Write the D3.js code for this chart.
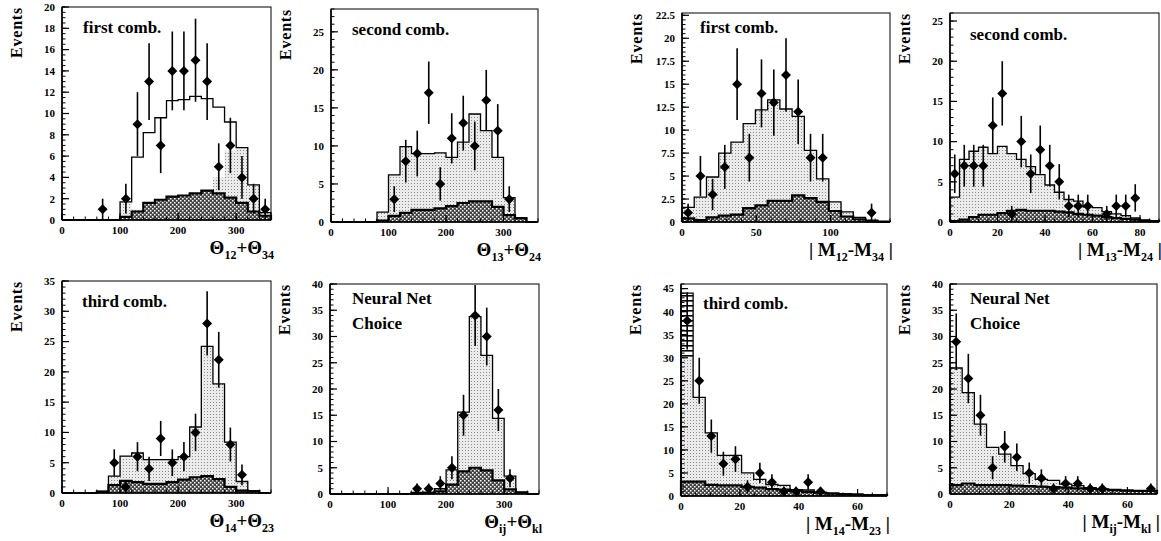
<!DOCTYPE html>
<html>
<head>
<meta charset="utf-8">
<script src="https://cdn.jsdelivr.net/npm/d3@7"></script>
<style>
  body { margin: 0; background: #fff; }
  svg text { font-family: "Liberation Serif", "Times New Roman", serif; font-weight: bold; fill: #000; }
</style>
</head>
<body>
<svg id="chart" width="1161" height="541"></svg>
<script>
// ---- histogram contents (bin by bin) and data points ----
// theta panels: 20 deg bins from 0 to 360
const p1Total  = [0,0,0,0,0,1.7,5.9,8.2,9.6,11.2,11.3,11.6,11.4,10.6,9.2,6.8,3.3,0.7];
const p1Signal = [0,0,0,0,0,1.7,1.0,1.6,1.9,2.2,2.3,2.5,2.75,4.0,6.5,6.8,3.3,0.7];
const p1Bkg    = [0,0,0,0,0,0.3,0.8,1.6,1.9,2.2,2.3,2.5,2.75,2.5,2.1,1.6,0.8,0.4];
const p1X   = [70,110,130,150,170,190,210,230,250,270,290,310,330,350];
const p1Y   = [1,2,9,13,7,14,14,15,13,5,7,4,2,1];
const p1Err = [1,1.4,3,3.6,2.6,3.7,3.7,3.9,3.6,2.2,2.6,2,1.4,1];

const p2Total = [0,0,0,0,1.3,6.2,9.9,9.0,9.0,9.1,8.5,10.5,14.2,12.0,8.5,3.2,0.5,0];
const p2Bkg   = [0,0,0,0,0.2,0.8,1.2,1.6,1.6,1.8,2.1,2.5,2.7,2.7,2.0,0.9,0.5,0];
const p2X   = [110,130,150,170,190,210,230,250,270,290,310];
const p2Y   = [3,8,9,17,5,11,13,10,16,12,3];
const p2Err = [1.7,2.8,3,4.1,2.2,3.3,3.6,3.2,4,3.5,1.7];

const p3Total = [0,0,0,0.3,2.8,6.1,6.6,5.5,5.5,5.5,6.0,10.9,24.2,18.0,8.4,1.9,0.3,0];
const p3Bkg   = [0,0,0,0.2,1.3,2.0,1.8,1.5,1.5,1.8,2.2,2.6,2.8,2.3,1.0,0.4,0.3,0];
const p3X   = [90,110,130,150,170,190,210,230,250,270,290,310];
const p3Y   = [5,1,6,4,9,5,6,10,28,22,8,3];
const p3Err = [2.2,1,2.4,2,2.9,2.2,2.4,3.1,5.3,4.6,2.8,1.7];

const p4Total = [0,0,0,0,0,0,0,0.3,0.3,1.0,4.6,15.6,33.8,26.4,14.4,3.4,0.3,0];
const p4Bkg   = [0,0,0,0,0,0,0,0.1,0.2,0.5,1.8,4.3,5.0,4.5,2.6,0.9,0.3,0];
const p4X   = [150,170,190,210,230,250,270,290,310];
const p4Y   = [1,1,2,5,15,34,30,16,3];
const p4Err = [1,1,1.4,2.2,3.9,5.8,5.5,4,1.7];

// mass difference panels
const p5Total = [1.6,2.7,4.9,7.5,8.7,10.7,12.2,13.3,12.3,11.5,7.8,4.7,2.2,1.1,0.5,0.2,0.1];
const p5Bkg   = [0.4,0.2,0.5,0.7,0.8,1.5,1.8,2.3,2.3,2.9,2.6,2.2,1.2,0.6,0.3,0.1,0];
const p5X   = [4.1,12.4,20.6,28.8,37.1,45.3,53.5,61.8,70.0,78.2,86.5,94.7,127.6];
const p5Y   = [1,5,3,6,15,7,14,13,16,12,7,7,1];
const p5Err = [1,2.2,1.7,2.4,3.9,2.6,3.7,3.6,4,3.5,2.6,2.6,1];

const p6Total = [3.1,7.8,8.8,9.3,8.5,9.4,8.5,7.8,6.9,5.9,4.6,3.7,2.8,2.6,1.9,1.8,1.3,1.0,0.8,0.5,0.2,0.1];
const p6Bkg   = [0.1,0.3,0.6,0.9,0.9,1.1,1.4,1.5,1.4,1.4,1.4,1.3,1.2,1.0,0.9,0.8,0.6,0.5,0.4,0.3,0.2,0.1];
const p6X   = [2,6,10,14,18,22,26,30,34,38,42,46,50,54,58,66,70,74,78];
const p6Y   = [6,7,7,7,12,16,1,10,6,9,7,5,2,2,2,1,2,2,3];
const p6Err = [2.4,2.6,2.6,2.6,3.5,4,1,3.2,2.4,3,2.6,2.2,1.4,1.4,1.4,1,1.4,1.4,1.7];

const p7Total  = [44,21.4,13.7,8.8,8.8,5.0,3.6,2.5,2.3,1.4,1.3,0.8,0.6,0.5,0.4,0.3,0.3];
const p7Signal = [30,21.4,13.7,8.8,8.8,5.0,3.6,2.5,2.3,1.4,1.3,0.8,0.6,0.5,0.4,0.3,0.3];
const p7Bkg    = [3.1,3.1,2.4,2.3,2.3,2.0,1.8,1.5,1.4,1.1,0.9,0.7,0.5,0.4,0.3,0.2,0.2];
const p7X   = [2.1,6.2,10.3,14.4,18.5,22.6,26.8,30.9,35.0,39.1,43.2,47.4];
const p7Y   = [38,25,13,7,8,2,5,3,1,1,3,1];
const p7Err = [6.2,5,3.6,2.6,2.8,1.4,2.2,1.7,1,1,1.7,1];

const p8Total = [24.0,19.3,13.3,8.9,7.6,5.4,3.9,2.8,2.6,1.9,1.6,1.2,0.9,0.7,0.6,0.5,0.5];
const p8Bkg   = [1.7,2.0,1.7,1.7,1.7,1.6,1.5,1.4,1.3,1.2,1.1,1.0,0.9,0.8,0.7,0.6,0.6];
const p8X   = [2.1,6.2,10.3,14.4,18.5,22.6,26.8,30.9,35.0,39.1,43.2,47.4,51.5,67.9];
const p8Y   = [29,22,15,5,9,7,4,3,1,2,2,1,1,1];
const p8Err = [5.4,4.7,3.9,2.2,3,2.6,2,1.7,1,1.4,1.4,1,1,1];

// ---- panel layout ----
const panels = [
  {left: 62, right: 271, top: 7, bottom: 220, x: [0, 360], y: [0, 20], nb: 18,
   total: p1Total, signal: p1Signal, bkg: p1Bkg, px: p1X, py: p1Y, pe: p1Err,
   yStep: 2, yMinor: 0.5, xStep: 100, xMinor: 20,
   title: ["first comb."], tdx: 21, tdy: [26], lab: ["theta", "12", "34"]},
  {left: 331, right: 538, top: 9, bottom: 222, x: [0, 360], y: [0, 28], nb: 18,
   total: p2Total, signal: p2Total, bkg: p2Bkg, px: p2X, py: p2Y, pe: p2Err,
   yStep: 5, yMinor: 1, xStep: 100, xMinor: 20,
   title: ["second comb."], tdx: 21, tdy: [26], lab: ["theta", "13", "24"]},
  {left: 62, right: 271, top: 281, bottom: 493, x: [0, 360], y: [0, 35], nb: 18,
   total: p3Total, signal: p3Total, bkg: p3Bkg, px: p3X, py: p3Y, pe: p3Err,
   yStep: 5, yMinor: 1, xStep: 100, xMinor: 20,
   title: ["third comb."], tdx: 20, tdy: [26], lab: ["theta", "14", "23"]},
  {left: 330, right: 539, top: 284, bottom: 494, x: [0, 360], y: [0, 40], nb: 18,
   total: p4Total, signal: p4Total, bkg: p4Bkg, px: p4X, py: p4Y, pe: p4Err,
   yStep: 5, yMinor: 1, xStep: 100, xMinor: 20,
   title: ["Neural Net", "Choice"], tdx: 22, tdy: [20, 45], lab: ["theta", "ij", "kl"]},
  {left: 682, right: 890, top: 13, bottom: 222, x: [0, 140], y: [0, 22.75], nb: 17,
   total: p5Total, signal: p5Total, bkg: p5Bkg, px: p5X, py: p5Y, pe: p5Err,
   yStep: 2.5, yMinor: 0.5, xStep: 50, xMinor: 10,
   title: ["first comb."], tdx: 18, tdy: [20], lab: ["mass", "12", "34"]},
  {left: 950, right: 1159, top: 13, bottom: 222, x: [0, 88], y: [0, 26], nb: 22,
   total: p6Total, signal: p6Total, bkg: p6Bkg, px: p6X, py: p6Y, pe: p6Err,
   yStep: 5, yMinor: 1, xStep: 20, xMinor: 4,
   title: ["second comb."], tdx: 20, tdy: [27], lab: ["mass", "13", "24"]},
  {left: 681, right: 887, top: 284, bottom: 496, x: [0, 70], y: [0, 46], nb: 17,
   total: p7Total, signal: p7Signal, bkg: p7Bkg, px: p7X, py: p7Y, pe: p7Err,
   yStep: 5, yMinor: 1, xStep: 20, xMinor: 5, upper: "url(#ladder)",
   title: ["third comb."], tdx: 22, tdy: [25], lab: ["mass", "14", "23"]},
  {left: 950, right: 1157, top: 284, bottom: 494, x: [0, 70], y: [0, 40], nb: 17,
   total: p8Total, signal: p8Total, bkg: p8Bkg, px: p8X, py: p8Y, pe: p8Err,
   yStep: 5, yMinor: 1, xStep: 20, xMinor: 5,
   title: ["Neural Net", "Choice"], tdx: 20, tdy: [20, 45], lab: ["mass", "ij", "kl"]}
];

const svg = d3.select("#chart");
const defs = svg.append("defs");

// light stipple for the MC signal
const dots = defs.append("pattern").attr("id", "dots")
  .attr("width", 3).attr("height", 3).attr("patternUnits", "userSpaceOnUse");
dots.append("rect").attr("width", 3).attr("height", 3).attr("fill", "#ebebeb");
dots.append("rect").attr("width", 1).attr("height", 1).attr("fill", "#8c8c8c");

// dark cross-hatch for the background
const hatch = defs.append("pattern").attr("id", "hatch")
  .attr("width", 4).attr("height", 4).attr("patternUnits", "userSpaceOnUse");
hatch.append("rect").attr("width", 4).attr("height", 4).attr("fill", "#444");
hatch.append("rect").attr("x", 0).attr("y", 0).attr("width", 1.5).attr("height", 1.5).attr("fill", "#fff");
hatch.append("rect").attr("x", 2).attr("y", 2).attr("width", 1.5).attr("height", 1.5).attr("fill", "#fff");

// ladder look of the overflowing first bin
const ladder = defs.append("pattern").attr("id", "ladder")
  .attr("width", 4).attr("height", 5).attr("patternUnits", "userSpaceOnUse");
ladder.append("rect").attr("width", 4).attr("height", 5).attr("fill", "#fff");
ladder.append("rect").attr("width", 4).attr("height", 1.6).attr("fill", "#000");

panels.forEach(draw);

function draw(p) {
  const x = d3.scaleLinear().domain(p.x).range([p.left, p.right]);
  const y = d3.scaleLinear().domain(p.y).range([p.bottom, p.top]);
  const w = (p.x[1] - p.x[0]) / p.nb;
  const g = svg.append("g");

  const steps = arr => arr.map((v, i) => [p.x[0] + i * w, v])
    .concat([[p.x[0] + arr.length * w, arr[arr.length - 1]]]);
  const outline = arr => [[p.x[0], 0]].concat(steps(arr), [[p.x[0] + arr.length * w, 0]]);

  const area = d3.area().curve(d3.curveStepAfter)
    .x(d => x(d[0])).y0(y(0)).y1(d => y(d[1]));
  const line = d3.line().curve(d3.curveStepAfter)
    .x(d => x(d[0])).y(d => y(d[1]));

  g.append("path").attr("d", area(steps(p.total))).attr("fill", p.upper || "#fff");
  g.append("path").attr("d", area(steps(p.signal))).attr("fill", "url(#dots)");
  g.append("path").attr("d", area(steps(p.bkg))).attr("fill", "url(#hatch)");
  g.append("path").attr("d", line(outline(p.bkg)))
    .attr("fill", "none").attr("stroke", "#000").attr("stroke-width", 2.2);
  g.append("path").attr("d", line(outline(p.total)))
    .attr("fill", "none").attr("stroke", "#000").attr("stroke-width", 1.3);

  // frame
  g.append("rect")
    .attr("x", p.left).attr("y", p.top)
    .attr("width", p.right - p.left).attr("height", p.bottom - p.top)
    .attr("fill", "none").attr("stroke", "#000").attr("stroke-width", 1);
  g.append("line").attr("x1", p.left).attr("x2", p.left).attr("y1", p.top).attr("y2", p.bottom)
    .attr("stroke", "#000").attr("stroke-width", 1.6);
  g.append("line").attr("x1", p.left).attr("x2", p.right).attr("y1", p.bottom).attr("y2", p.bottom)
    .attr("stroke", "#000").attr("stroke-width", 1.6);

  // y ticks
  const yMajor = d3.range(p.y[0], p.y[1] + 1e-9, p.yStep);
  const yMin = d3.range(p.y[0], p.y[1] + 1e-9, p.yMinor);
  g.selectAll(".ymin").data(yMin).enter().append("line")
    .attr("x1", p.left).attr("x2", p.left + 3.5)
    .attr("y1", d => y(d)).attr("y2", d => y(d))
    .attr("stroke", "#000").attr("stroke-width", 1);
  g.selectAll(".ymaj").data(yMajor).enter().append("line")
    .attr("x1", p.left).attr("x2", p.left + 7)
    .attr("y1", d => y(d)).attr("y2", d => y(d))
    .attr("stroke", "#000").attr("stroke-width", 1.2);
  g.selectAll(".ylab").data(yMajor).enter().append("text")
    .attr("x", p.left - 7).attr("y", d => y(d)).attr("dy", "0.35em")
    .attr("text-anchor", "end").attr("font-size", 11)
    .text(d => String(d));

  // x ticks
  const xMajor = d3.range(p.x[0], p.x[1] + 1e-9, p.xStep);
  const xMin = d3.range(p.x[0], p.x[1] + 1e-9, p.xMinor);
  g.selectAll(".xmin").data(xMin).enter().append("line")
    .attr("x1", d => x(d)).attr("x2", d => x(d))
    .attr("y1", p.bottom).attr("y2", p.bottom - 3.5)
    .attr("stroke", "#000").attr("stroke-width", 1);
  g.selectAll(".xmaj").data(xMajor).enter().append("line")
    .attr("x1", d => x(d)).attr("x2", d => x(d))
    .attr("y1", p.bottom).attr("y2", p.bottom - 7)
    .attr("stroke", "#000").attr("stroke-width", 1.2);
  g.selectAll(".xlab").data(xMajor).enter().append("text")
    .attr("x", d => x(d)).attr("y", p.bottom + 14)
    .attr("text-anchor", "middle").attr("font-size", 11)
    .text(d => String(d));

  // data points with error bars
  const pts = p.px.map((v, i) => ({x: v, y: p.py[i], e: p.pe[i]}));
  g.selectAll(".err").data(pts).enter().append("line")
    .attr("x1", d => x(d.x)).attr("x2", d => x(d.x))
    .attr("y1", d => y(Math.max(0, d.y - d.e))).attr("y2", d => y(d.y + d.e))
    .attr("stroke", "#000").attr("stroke-width", 1.6);
  g.selectAll(".pt").data(pts).enter().append("path")
    .attr("d", d3.symbol(d3.symbolSquare, 50))
    .attr("transform", d => `translate(${x(d.x)},${y(d.y)}) rotate(45)`)
    .attr("fill", "#000");

  // titles
  p.title.forEach((t, i) => {
    g.append("text").attr("x", p.left + p.tdx).attr("y", p.top + p.tdy[i])
      .attr("font-size", 17).text(t);
  });

  // Events label
  g.append("text")
    .attr("transform", `translate(${p.left - 40},${p.top}) rotate(-90)`)
    .attr("text-anchor", "end").attr("font-size", 16).attr("letter-spacing", 0.8)
    .text("Events");

  // x axis label
  const t = g.append("text")
    .attr("x", p.right + 3).attr("y", p.bottom + 34)
    .attr("text-anchor", "end").attr("font-size", 19);
  const sub = s => t.append("tspan").attr("font-size", 12).attr("dy", 5).text(s);
  const up = s => t.append("tspan").attr("dy", -5).text(s);
  if (p.lab[0] === "theta") {
    t.append("tspan").text("Θ");
    sub(p.lab[1]);
    up("+Θ");
    sub(p.lab[2]);
  } else {
    t.append("tspan").text("| M");
    sub(p.lab[1]);
    up("-M");
    sub(p.lab[2]);
    up(" |");
  }
}
</script>
</body>
</html>
